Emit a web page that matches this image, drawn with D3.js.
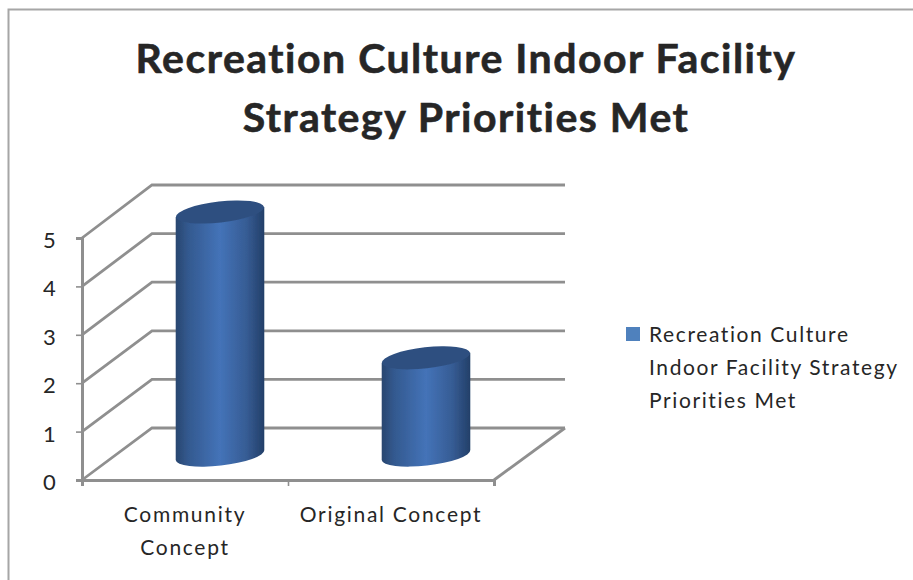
<!DOCTYPE html>
<html>
<head>
<meta charset="utf-8">
<script src="https://cdn.jsdelivr.net/npm/d3@7"></script>
<style>
    html, body { margin: 0; padding: 0; background: #fff; }
    text { font-family: Lato, "Open Sans", sans-serif; fill: #262626; }
</style>
</head>
<body>
<div id="root"></div>
<script>
var categories = [['Community', 'Concept'], ['Original Concept']]
var values = [5, 2]
var yTicks = [0, 1, 2, 3, 4, 5]
var titleLines = ['Recreation Culture Indoor Facility', 'Strategy Priorities Met']
var legendLines = ['Recreation Culture', 'Indoor Facility Strategy', 'Priorities Met']

var width = 913
var height = 580
var depthX = 70
var lineColor = '#8f8f8f'

var svg = d3.select('#root').append('svg')
    .attr('width', width)
    .attr('height', height)
    .style('display', 'block')

// 比例尺: front plane, back wall, and the plane the cylinders stand on
var X = d3.scaleBand().domain(d3.range(categories.length)).range([82, 494])
var Yfront = d3.scaleLinear().domain([0, 5]).range([480, 238])
var Yback = d3.scaleLinear().domain([0, 5]).range([428, 185])
var Ymid = d3.scaleLinear().domain([0, 5]).range([455, 212])

var defs = svg.append('defs')
var blur = defs.append('filter').attr('id', 'soft')
    .attr('x', '-5%').attr('y', '-5%').attr('width', '110%').attr('height', '110%')
blur.append('feGaussianBlur').attr('stdDeviation', 0.6)

var grad = defs.append('linearGradient').attr('id', 'cyl')
    .attr('x1', '0%').attr('y1', '0%').attr('x2', '100%').attr('y2', '0%')
var gradStops = [[0, '#28466f'], [0.14, '#33598f'], [0.5, '#4473b8'], [0.8, '#365c94'], [1, '#233f68']]
gradStops.forEach(function (s) {
    grad.append('stop').attr('offset', s[0]).style('stop-color', s[1])
})

// 边框
svg.append('path')
    .attr('d', 'M8.5,580V9.5H913')
    .attr('fill', 'none')
    .attr('stroke', '#a6a6a6')
    .attr('stroke-width', 2)

// 标题
svg.append('g').selectAll('text')
    .data(titleLines)
    .enter()
    .append('text')
    .attr('x', 466)
    .attr('y', function (d, i) { return 73 + i * 58.5 })
    .attr('text-anchor', 'middle')
    .attr('font-size', 41)
    .attr('font-weight', 700)
    .attr('letter-spacing', 1.5)
    .attr('stroke', '#262626')
    .attr('stroke-width', 0.6)
    .text(function (d) { return d })

// 网格
var plot = svg.append('g').attr('filter', 'url(#soft)')
var grid = plot.append('g')
    .attr('fill', 'none')
    .attr('stroke', lineColor)
    .attr('stroke-width', 2.8)
grid.selectAll('path.wall')
    .data(yTicks)
    .enter()
    .append('path')
    .attr('class', 'wall')
    .attr('d', function (d) {
        return 'M' + X.range()[0] + ',' + Yfront(d) + 'L' + (X.range()[0] + depthX) + ',' + Yback(d) + 'H' + (X.range()[1] + depthX + 1)
    })
grid.append('path')
    .attr('d', 'M' + X.range()[1] + ',' + Yfront(0) + 'L' + (X.range()[1] + depthX + 1) + ',' + Yback(0))

// 坐标轴
var YaxisG = plot.append('g')
    .attr('transform', 'translate(' + X.range()[0] + ',0)')
    .call(d3.axisLeft(Yfront).tickValues(yTicks).tickSize(6).tickPadding(3))
var XaxisG = plot.append('g')
    .attr('transform', 'translate(0,' + Yfront(0) + ')')
    .call(d3.axisBottom(d3.scaleLinear().domain([0, categories.length]).range(X.range()))
        .ticks(categories.length).tickSize(6).tickFormat(''))
plot.selectAll('.domain').attr('stroke', lineColor).attr('stroke-width', 3)
plot.selectAll('.tick line').attr('stroke', lineColor).attr('stroke-width', 1.6)
YaxisG.selectAll('text').remove()

// 圆柱
var rx = X.bandwidth() * 0.215
var ry = 10.5
var tilt = 5
var cyl = plot.selectAll('g.cyl')
    .data(values)
    .enter()
    .append('g')
    .attr('class', 'cyl')
cyl.append('path')
    .attr('fill', 'url(#cyl)')
    .attr('d', function (d, i) {
        var cx = X(i) + X.bandwidth() / 2 + depthX / 2
        var top = Ymid(d)
        var base = Ymid(0)
        return 'M' + (cx - rx) + ',' + (top + tilt) +
            'L' + (cx - rx) + ',' + (base + tilt) +
            'A' + rx + ',' + ry + ',-6.5,0,0,' + (cx + rx) + ',' + (base - tilt) +
            'L' + (cx + rx) + ',' + (top - tilt) + 'Z'
    })
cyl.append('ellipse')
    .attr('rx', rx)
    .attr('ry', ry)
    .attr('fill', '#2f5080')
    .attr('transform', function (d, i) {
        var cx = X(i) + X.bandwidth() / 2 + depthX / 2
        return 'translate(' + cx + ',' + Ymid(d) + ') rotate(-6.5)'
    })

// 刻度文字
svg.append('g').selectAll('text')
    .data(yTicks)
    .enter()
    .append('text')
    .attr('x', 43)
    .attr('y', function (d) { return Yfront(d) + 10 })
    .attr('font-size', 22)
    .text(function (d) { return d })

svg.append('g').selectAll('g')
    .data(categories)
    .enter()
    .append('g')
    .selectAll('text')
    .data(function (d, i) {
        return d.map(function (t, j) { return { t: t, i: i, j: j } })
    })
    .enter()
    .append('text')
    .attr('x', function (d) { return X(d.i) + X.bandwidth() / 2 })
    .attr('y', function (d) { return 522 + d.j * 33 })
    .attr('text-anchor', 'middle')
    .attr('font-size', 21)
    .attr('letter-spacing', 1.7)
    .text(function (d) { return d.t })

// 图例
svg.append('rect')
    .attr('x', 626)
    .attr('y', 327)
    .attr('width', 14)
    .attr('height', 14)
    .attr('fill', '#4f81bd')
svg.append('g').selectAll('text')
    .data(legendLines)
    .enter()
    .append('text')
    .attr('x', 649)
    .attr('y', function (d, i) { return 342 + i * 33 })
    .attr('font-size', 21)
    .attr('letter-spacing', 1.6)
    .text(function (d) { return d })
</script>
</body>
</html>
